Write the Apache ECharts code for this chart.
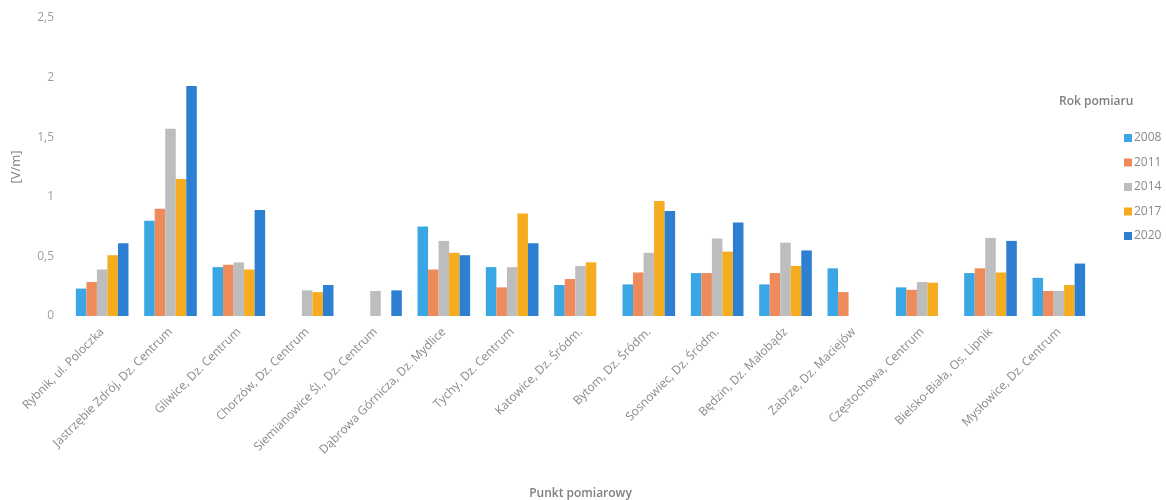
<!DOCTYPE html>
<html><head><meta charset="utf-8">
<script src="https://cdn.jsdelivr.net/npm/echarts@6/dist/echarts.min.js"></script>
<style>html,body{margin:0;padding:0;background:#fff}#c{width:1166px;height:500px}</style>
</head><body><div id="c"></div>
<script>
const categories = ["Rybnik, ul. Poloczka","Jastrzębie Zdrój, Dz. Centrum","Gliwice, Dz. Centrum","Chorzów, Dz. Centrum","Siemianowice Śl., Dz. Centrum","Dąbrowa Górnicza, Dz. Mydlice","Tychy, Dz. Centrum","Katowice, Dz. Śródm.","Bytom, Dz. Śródm.","Sosnowiec, Dz. Śródm.","Będzin, Dz. Małobądz","Zabrze, Dz. Maciejów","Częstochowa, Centrum","Bielsko-Biała, Os. Lipnik","Mysłowice, Dz. Centrum"];
const years = ["2008","2011","2014","2017","2020"];
const v2008 = [0.23,0.80,0.41,null,null,0.75,0.41,0.26,0.265,0.36,0.265,0.40,0.24,0.36,0.32];
const v2011 = [0.285,0.90,0.43,null,null,0.39,0.24,0.31,0.365,0.36,0.36,0.20,0.22,0.40,0.21];
const v2014 = [0.39,1.57,0.45,0.215,0.21,0.63,0.41,0.42,0.53,0.65,0.615,null,0.285,0.655,0.21];
const v2017 = [0.51,1.15,0.39,0.20,null,0.53,0.86,0.45,0.965,0.54,0.42,null,0.28,0.365,0.26];
const v2020 = [0.61,1.93,0.89,0.26,0.215,0.51,0.61,null,0.88,0.785,0.55,null,null,0.63,0.44];
const yTicks = [0,0.5,1,1.5,2,2.5];
const colors = ["#3aa6e4","#ef8a5a","#bdbdbd","#f5ad1f","#2c7fd1"];
const seriesValues = [v2008,v2011,v2014,v2017,v2020];

const chart = echarts.init(document.getElementById('c'));
const font = '"Open Sans", "DejaVu Sans", sans-serif';
chart.setOption({
  animation:false,
  color: colors,
  textStyle:{fontFamily:font},
  grid:{left:68,right:73,top:18,bottom:184,containLabel:false,outerBoundsMode:'none'},
  legend:{
    orient:'vertical', left:1119, top:127, itemWidth:8, itemHeight:8, itemGap:12.5,
    icon:'rect', data:years,
    textStyle:{color:'#8a8a8a',fontSize:12,fontFamily:font,padding:[0,0,0,-3]}
  },
  graphic:[{type:'text',left:1059,top:96,style:{text:'Rok pomiaru',fill:'#7f7f7f',font:'600 12px "Open Sans", sans-serif'}}],
  xAxis:{
    type:'category', data:categories,
    axisLine:{show:false}, axisTick:{show:false},
    axisLabel:{rotate:45, interval:0, color:'#8a8a8a', fontSize:12, fontFamily:font, margin:14},
    name:'Punkt pomiarowy', nameLocation:'middle', nameGap:172,
    nameTextStyle:{color:'#7f7f7f', fontSize:12, fontWeight:600, fontFamily:font}
  },
  yAxis:{
    type:'value', min:0, max:2.5, interval:0.5,
    axisLine:{show:false}, axisTick:{show:false}, splitLine:{show:false},
    axisLabel:{color:'#a0a0a0', fontSize:12, fontFamily:font, margin:14,
      formatter:v=>String(v).replace('.',',')},
    name:'[V/m]', nameLocation:'middle', nameGap:45, nameRotate:90,
    nameTextStyle:{color:'#7f7f7f', fontSize:13, fontFamily:font}
  },
  series: years.map((y,i)=>({
    name:y, type:'bar', data:seriesValues[i],
    barGap:'0%', barCategoryGap:'23%',
    itemStyle:{color:colors[i]}
  }))
});
</script></body></html>
